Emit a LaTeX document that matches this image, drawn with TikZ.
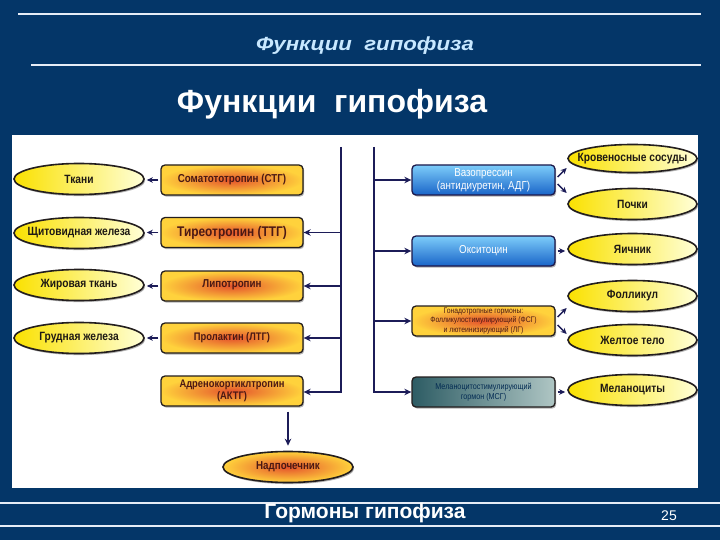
\documentclass[tikz,border=0pt]{standalone}
\usepackage{fontspec}
\setmainfont{Liberation Sans}
\newfontfamily\narrowfont[FakeStretch=0.85]{Liberation Sans}
\newfontfamily\widefont[FakeStretch=1.17]{Liberation Sans}
\usetikzlibrary{shapes.geometric,arrows.meta,shadows,calc}
\definecolor{navy}{RGB}{4,54,104}
\definecolor{linecol}{RGB}{230,236,246}
\definecolor{hdrblue}{RGB}{200,232,255}
\definecolor{arrcol}{RGB}{28,28,88}
\definecolor{ylw}{RGB}{255,238,0}
\definecolor{ylwdeep}{RGB}{250,225,0}
\definecolor{ylwlight}{RGB}{255,255,215}
\definecolor{orin}{RGB}{228,82,44}
\definecolor{orout}{RGB}{255,210,60}
\definecolor{bluetop}{RGB}{125,205,250}
\definecolor{bluebot}{RGB}{25,100,200}
\definecolor{tealdark}{RGB}{45,92,100}
\definecolor{teallight}{RGB}{175,198,196}
\definecolor{outline}{RGB}{35,30,30}
\definecolor{boxtext}{RGB}{75,25,20}
\definecolor{darktext}{RGB}{30,25,20}
\newcommand{\zw}[1]{\makebox[0pt]{#1}}
\begin{document}
\begin{tikzpicture}[x=1pt,y=-1pt,
  shadowed/.style={drop shadow={shadow xshift=1.2pt,shadow yshift=-1.6pt,fill=black!60}},
  yell/.style={ellipse,draw=outline,line width=1.6pt,left color=ylwdeep,middle color=ylw,right color=ylwlight,
    minimum width=130pt,minimum height=31pt,inner sep=0pt,shadowed,
    font=\narrowfont\bfseries\fontsize{12}{13}\selectfont,text=darktext},
  oell/.style={ellipse,draw=outline,line width=1.6pt,inner color=orin,outer color=orout,
    minimum width=130pt,minimum height=31pt,inner sep=0pt,shadowed,
    font=\narrowfont\bfseries\fontsize{11.5}{13}\selectfont,text=boxtext},
  obox/.style={rectangle,rounded corners=4pt,draw=outline,line width=1.3pt,inner color=orin,outer color=orout,
    minimum width=142pt,minimum height=30pt,inner sep=1pt,align=center,shadowed,
    font=\narrowfont\bfseries\fontsize{11.5}{12.5}\selectfont,text=boxtext},
  bbox/.style={rectangle,rounded corners=4pt,draw=outline!80!blue,line width=1.3pt,top color=bluetop,bottom color=bluebot,
    minimum width=143pt,minimum height=30pt,inner sep=1pt,align=center,shadowed,
    font=\narrowfont\fontsize{11.5}{12.5}\selectfont,text=white},
  tbox/.style={rectangle,rounded corners=4pt,draw=outline,line width=1.3pt,left color=tealdark,right color=teallight,
    minimum width=143pt,minimum height=30pt,inner sep=1pt,align=center,shadowed,
    font=\narrowfont\fontsize{8.5}{10}\selectfont,text=navy!80!black},
  vline/.style={draw=arrcol,line width=1.5pt},
  arr/.style={draw=arrcol,line width=1.5pt,-{Stealth[length=7pt,width=6.5pt]}},
  sarr/.style={draw=arrcol,line width=1.5pt,-{Stealth[length=6pt,width=5.5pt]},shorten <=2pt,shorten >=2pt},
  hline/.style={draw=linecol,line width=1.3pt}
]
% background and bounding box
\fill[navy] (0,0) rectangle (720,540);
\useasboundingbox (0,0) rectangle (720,540);
% header
\draw[hline] (18,14) -- (701,14);
\draw[hline] (31,65) -- (701,65);
\node[font=\widefont\bfseries\itshape\fontsize{19}{22}\selectfont,text=hdrblue] (hdr) at (365,46) {Функции\ \ гипофиза};
\node[font=\bfseries\fontsize{32}{36}\selectfont,text=white] (title) at (332,104) {Функции\ \ гипофиза};
% footer
\draw[hline] (0,503) -- (720,503);
\draw[hline] (0,526) -- (720,526);
\node[font=\bfseries\fontsize{21}{24}\selectfont,text=white] (footer) at (365,513) {Гормоны гипофиза};
\node[font=\fontsize{14}{16}\selectfont,text=white] (pnum) at (669,516) {25};
% white panel
\fill[white] (12,135) rectangle (698,488);
\begin{scope}
\clip (12,135) rectangle (698,488);
% left ellipses
\node[yell] (tkani) at (79,179) {\zw{Ткани}};
\node[yell] (shchit) at (79,233) {\zw{Щитовидная железа}};
\node[yell] (zhir) at (79,285) {\zw{Жировая ткань}};
\node[yell] (grud) at (79,338) {\zw{Грудная железа}};
% left boxes
\node[obox] (stg) at (232,180) {Соматототропин (СТГ)};
\node[obox,font=\narrowfont\bfseries\fontsize{14}{15}\selectfont] (ttg) at (232,232.5) {Тиреотропин (ТТГ)};
\node[obox] (lipo) at (232,286) {\raisebox{4pt}{Липотропин}};
\node[obox,font=\narrowfont\bfseries\fontsize{11}{12}\selectfont] (ltg) at (232,338) {Пролактин (ЛТГ)};
\node[obox,font=\narrowfont\bfseries\fontsize{11}{12.5}\selectfont] (aktg) at (232,391) {Адренокортиклтропин\\(АКТГ)};
\node[oell] (nadp) at (288,467) {\zw{Надпочечник}};
% right boxes
\node[bbox] (vaso) at (483.5,180) {Вазопрессин\\(антидиуретин, АДГ)};
\node[bbox] (oxy) at (483.5,251) {Окситоцин};
\node[obox,minimum width=143pt,font=\narrowfont\fontsize{8}{9.5}\selectfont] (gona) at (483.5,321) {Гонадотропные гормоны:\\Фолликулостимулирующий (ФСГ)\\и лютеинизирующий (ЛГ)};
\node[tbox] (msg) at (483.5,392) {Меланоцитостимулирующий\\гормон (МСГ)};
% right ellipses
\node[yell,minimum width=129pt,minimum height=28pt] (krov) at (632.5,158.5) {\zw{Кровеносные сосуды}};
\node[yell,minimum width=129pt] (pochki) at (632.5,204) {\zw{Почки}};
\node[yell,minimum width=129pt] (yaich) at (632.5,249) {\zw{Яичник}};
\node[yell,minimum width=129pt] (foll) at (632.5,296) {\zw{Фолликул}};
\node[yell,minimum width=129pt] (zhelt) at (632.5,340) {\zw{Желтое тело}};
\node[yell,minimum width=129pt] (melan) at (632.5,390) {\zw{Меланоциты}};
% left trunk
\coordinate (lvtop) at (341,147);
\coordinate (lvbot) at (341,392);
\draw[vline] (lvtop) -- (lvbot);
\draw[arr] (ttg.east -| lvtop) -- (ttg.east);
\draw[arr] (lipo.east -| lvtop) -- (lipo.east);
\draw[arr] (ltg.east -| lvtop) -- (ltg.east);
\draw[arr,shorten <=-0.75pt] (lvbot) -- (lvbot -| aktg.east);
% right trunk
\coordinate (rvtop) at (374,147);
\coordinate (rvbot) at (374,392);
\draw[vline] (rvtop) -- (rvbot);
\draw[arr] (vaso.west -| rvtop) -- (vaso.west);
\draw[arr] (oxy.west -| rvtop) -- (oxy.west);
\draw[arr] (gona.west -| rvtop) -- (gona.west);
\draw[arr,shorten <=-0.75pt] (rvbot) -- (rvbot -| msg.west);
% hormone -> target (left)
\draw[sarr] (stg.west) -- (stg.west -| tkani.east);
\draw[sarr] (ttg.west) -- (ttg.west -| shchit.east);
\draw[sarr] (lipo.west) -- (lipo.west -| zhir.east);
\draw[sarr] (ltg.west) -- (ltg.west -| grud.east);
\draw[arr,shorten <=5pt,shorten >=5pt] (aktg.south -| nadp.north) -- (nadp.north);
% hormone -> target (right)
\coordinate (va1) at ([shift={(2,-3)}]vaso.east);
\coordinate (va2) at ([shift={(2,4)}]vaso.east);
\coordinate (kr1) at ([shift={(11,-12)}]vaso.east);
\coordinate (po1) at ([shift={(11,13)}]vaso.east);
\draw[arr,-{Stealth[length=6pt,width=5.5pt]}] (va1) -- (kr1);
\draw[arr,-{Stealth[length=6pt,width=5.5pt]}] (va2) -- (po1);
\draw[sarr] (oxy.east) -- (oxy.east -| yaich.west);
\coordinate (go1) at ([shift={(2,-4)}]gona.east);
\coordinate (go2) at ([shift={(2,4)}]gona.east);
\coordinate (fo1) at ([shift={(11,-13)}]gona.east);
\coordinate (zh1) at ([shift={(11,13)}]gona.east);
\draw[arr,-{Stealth[length=6pt,width=5.5pt]}] (go1) -- (fo1);
\draw[arr,-{Stealth[length=6pt,width=5.5pt]}] (go2) -- (zh1);
\draw[sarr] (msg.east) -- (msg.east -| melan.west);
\end{scope}
\end{tikzpicture}
\end{document}
